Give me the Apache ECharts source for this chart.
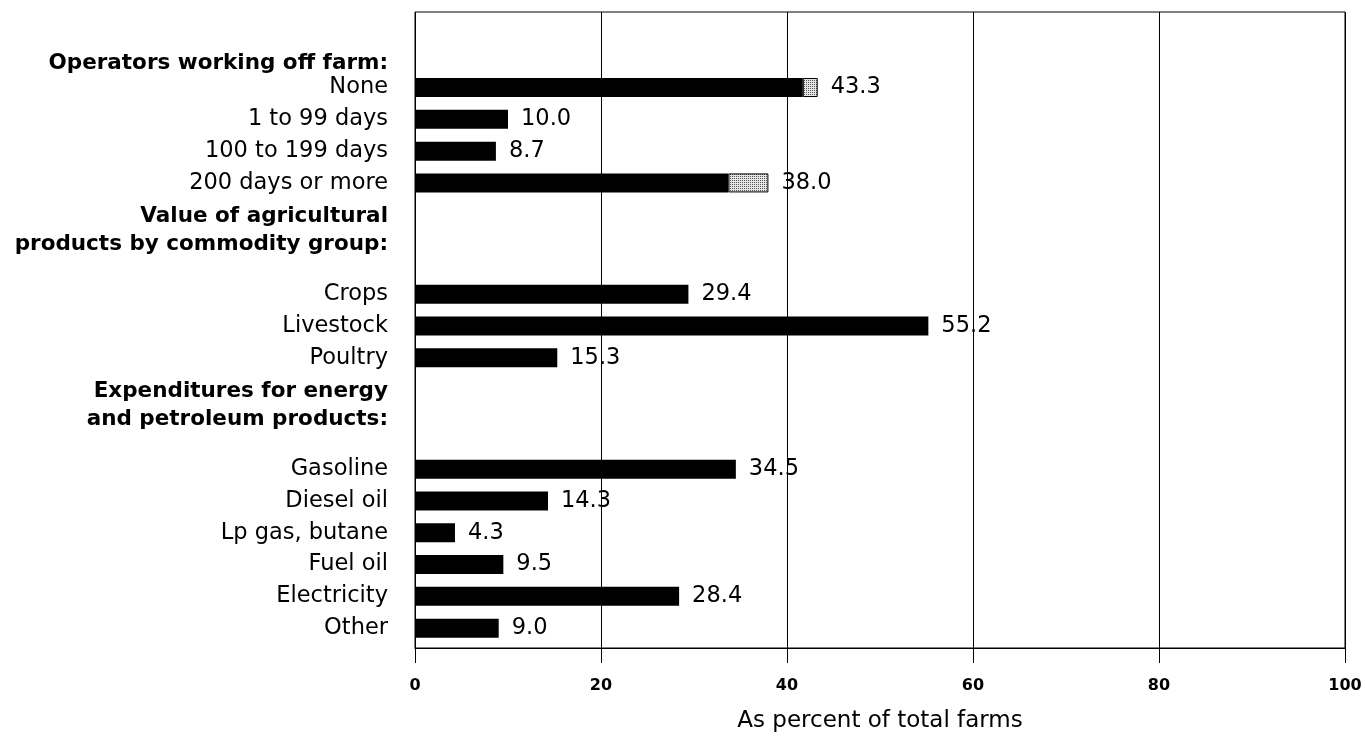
<!DOCTYPE html>
<html>
<head>
<meta charset="utf-8">
<script src="https://cdn.jsdelivr.net/npm/echarts@6/dist/echarts.min.js"></script>
<style>
html,body{margin:0;padding:0;background:#fff;overflow:hidden;}
#chart{width:1365px;height:736px;}
</style>
</head>
<body>
<div id="chart"></div>
<script>
// ---- Data ----
const groupTitles = [
  'Operators working off farm:',
  'Value of agricultural\nproducts by commodity group:',
  'Expenditures for energy\nand petroleum products:'
];
const offFarmCategories = ['None', '1 to 99 days', '100 to 199 days', '200 days or more'];
const offFarmValues = [43.3, 10.0, 8.7, 38.0];
const offFarmShaded = [1.6, 0, 0, 4.3];

const commodityCategories = ['Crops', 'Livestock', 'Poultry'];
const commodityValues = [29.4, 55.2, 15.3];
const commodityShaded = [0, 0, 0];

const energyCategories = ['Gasoline', 'Diesel oil', 'Lp gas, butane', 'Fuel oil', 'Electricity', 'Other'];
const energyValues = [34.5, 14.3, 4.3, 9.5, 28.4, 9.0];
const energyShaded = [0, 0, 0, 0, 0, 0];

const xMin = 0, xMax = 100, xInterval = 20;
const axisTitle = 'As percent of total farms';

// ---- Layout (slot scheme of the category axis) ----
const SLOTS = 80;
const groupLayout = [
  { headerSlot: 6,  firstRow: 9 },
  { headerSlot: 27, firstRow: 35 },
  { headerSlot: 49, firstRow: 57 }
];
const ROW_STEP = 4;

const groupsData = [
  { cats: offFarmCategories, vals: offFarmValues, shade: offFarmShaded },
  { cats: commodityCategories, vals: commodityValues, shade: commodityShaded },
  { cats: energyCategories, vals: energyValues, shade: energyShaded }
];

const slotLabels = new Array(SLOTS).fill('');
const slotIsHeader = new Array(SLOTS).fill(false);
const darkData = new Array(SLOTS).fill('-');
const shadeData = new Array(SLOTS).fill('-');
const totalData = new Array(SLOTS).fill(null);

groupsData.forEach((g, gi) => {
  const lay = groupLayout[gi];
  slotLabels[lay.headerSlot] = groupTitles[gi];
  slotIsHeader[lay.headerSlot] = true;
  g.cats.forEach((c, i) => {
    const s = lay.firstRow + i * ROW_STEP;
    slotLabels[s] = c;
    const total = g.vals[i];
    const sh = g.shade[i];
    darkData[s] = +(total - sh).toFixed(2);
    shadeData[s] = sh > 0 ? { value: sh, itemStyle: { borderWidth: 1, borderColor: '#000' } } : { value: 0 };
    totalData[s] = total;
  });
});

// stipple pattern
const pat = document.createElement('canvas');
pat.width = 2; pat.height = 2;
const pc = pat.getContext('2d');
pc.fillStyle = '#e6e6e6'; pc.fillRect(0, 0, 2, 2);
pc.fillStyle = '#555'; pc.fillRect(0, 0, 1, 1);

const FONT = "'DejaVu Sans', Verdana, sans-serif";

const chart = echarts.init(document.getElementById('chart'));
chart.setOption({
  animation: false,
  backgroundColor: '#fff',
  grid: {
    left: 415, right: 20, top: 12, bottom: 88,
    show: true, borderColor: '#000', borderWidth: 1,
    containLabel: false, outerBoundsMode: 'none'
  },
  xAxis: {
    type: 'value', min: xMin, max: xMax, interval: xInterval,
    position: 'bottom',
    axisLine: { show: true, lineStyle: { color: '#000', width: 1.2 } },
    axisTick: { show: true, length: 15, inside: false, lineStyle: { color: '#000', width: 1 } },
    splitLine: { show: true, lineStyle: { color: '#000', width: 1 } },
    axisLabel: { color: '#000', fontFamily: FONT, fontWeight: 'bold', fontSize: 16, margin: 30 },
    name: axisTitle, nameLocation: 'middle', nameGap: 62,
    nameTextStyle: { color: '#000', fontFamily: FONT, fontSize: 23 }
  },
  yAxis: {
    type: 'category', inverse: true, data: slotLabels,
    axisLine: { show: false }, axisTick: { show: false }, splitLine: { show: false },
    axisLabel: {
      interval: 0, margin: 27, color: '#000', fontFamily: FONT, fontSize: 22,
      formatter: function (v, idx) {
        if (!v) return '';
        if (slotIsHeader[idx]) return v.split('\n').map(l => '{h|' + l + '}').join('\n');
        return '{n|' + v + '}';
      },
      rich: {
        h: { fontFamily: FONT, fontWeight: 'bold', fontSize: 21.5, lineHeight: 28, color: '#000' },
        n: { fontFamily: FONT, fontSize: 22.5, lineHeight: 24, color: '#000' }
      }
    }
  },
  series: [
    {
      type: 'bar', stack: 'a', barWidth: 19, data: darkData,
      itemStyle: { color: '#000' }, silent: true
    },
    {
      type: 'bar', stack: 'a', barWidth: 19, data: shadeData,
      itemStyle: { color: { image: pat, repeat: 'repeat' }, borderWidth: 0 },
      silent: true,
      label: {
        show: true, position: 'right', distance: 13, color: '#000',
        fontFamily: FONT, fontSize: 22.5,
        formatter: function (p) {
          const t = totalData[p.dataIndex];
          return t == null ? '' : t.toFixed(1);
        }
      }
    }
  ]
});
</script>
</body>
</html>
